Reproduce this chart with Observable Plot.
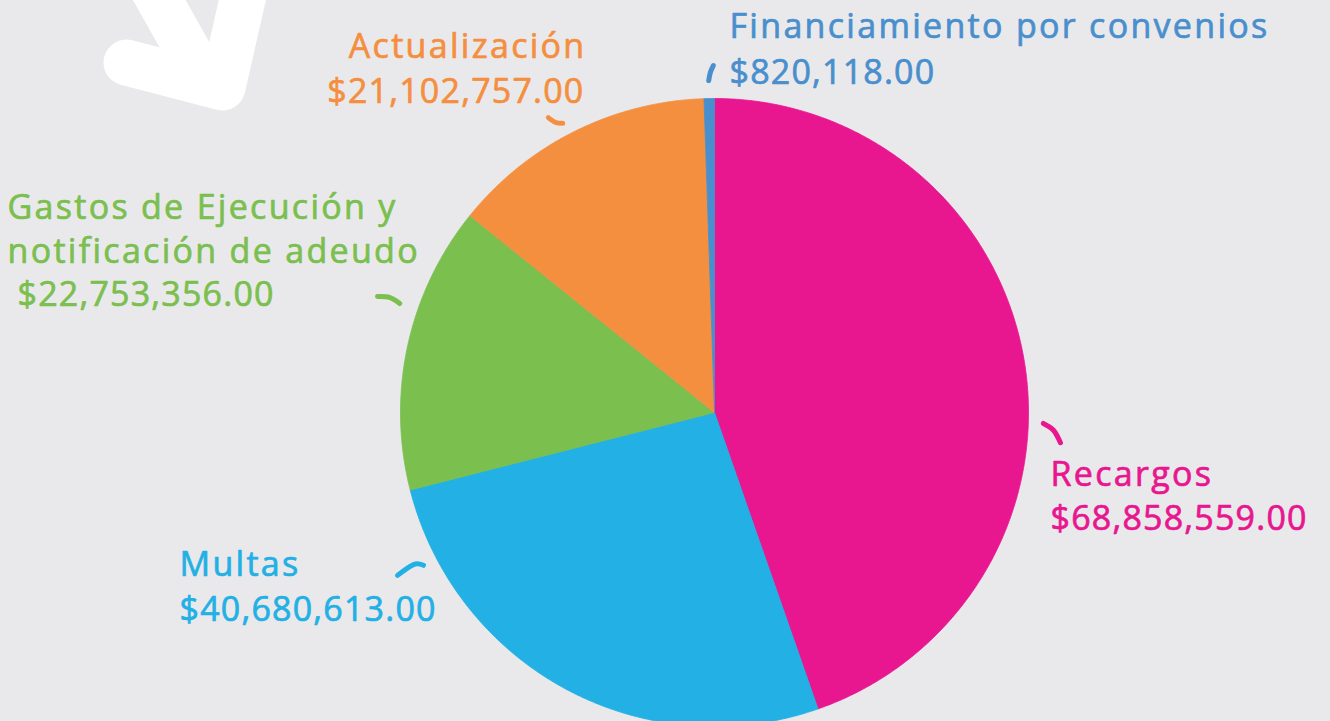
<!DOCTYPE html>
<html><head><meta charset="utf-8">
<script src="https://cdn.jsdelivr.net/npm/d3@7"></script>
<script src="https://cdn.jsdelivr.net/npm/@observablehq/plot@0.6"></script>
<style>
html,body{margin:0;padding:0;background:#E9E9EC;overflow:hidden;}
#chart svg{display:block;}
</style></head><body><div id="chart"></div>
<script>
// ---- data ----
const categories = ["Recargos", "Multas", "Gastos de Ejecución y\nnotificación de adeudo", "Actualización", "Financiamiento por convenios"];
const amounts = [68858559, 40680613, 22753356, 21102757, 820118];
const colors = ["#E8168F", "#22B0E5", "#7BBF4F", "#F58F40", "#4A8FCD"];

// ---- layout (pixels) ----
const W = 1330, H = 721, CX = 714, CY = 412, R = 314;
const labelLayout = [
  {anchor: "start", x: 1050, nameY: 485, amountY: 529, amountX: 1050},
  {anchor: "start", x: 179, nameY: 575, amountY: 620, amountX: 179},
  {anchor: "start", x: 7, nameY: 262, amountY: 305, amountX: 17},
  {anchor: "end", x: 586, nameY: 57, amountY: 102, amountX: 584},
  {anchor: "start", x: 729, nameY: 37, amountY: 83, amountX: 729}
];
// leader ticks, polar (degrees clockwise from top, radius in pie radii)
const tickLayout = [
  [[91.9, 1.048], [93.0, 1.081], [95.0, 1.106]],
  [[242.8, 1.135], [243.2, 1.074], [242.3, 1.047]],
  [[289.0, 1.135], [289.5, 1.098], [289.1, 1.061]],
  [[330.6, 1.078], [331.3, 1.053], [332.3, 1.040]],
  [[359.0, 1.057], [359.3, 1.083], [359.8, 1.105]]
];
// decorative arrow (pixels)
const arrowParts = [
  {part: "head", pts: [[126, 62], [222, 87], [244, -10]]},
  {part: "shaft", pts: [[145, -25], [204, 80]]}
];

const px = (x) => (x - CX) / R;
const py = (y) => (CY - y) / R;
const fmt = d3.format("$,.2f");

const data = categories.map((c, i) => ({name: c, value: amounts[i], color: colors[i]}));
const arcs = d3.pie().sort(null).value(d => d.value)(data);

const slicePts = arcs.flatMap(a => {
  const n = Math.max(4, Math.ceil((a.endAngle - a.startAngle) / (Math.PI / 360)));
  const pts = [{name: a.data.name, x: 0, y: 0}];
  for (let i = 0; i <= n; i++) {
    const t = a.startAngle + (a.endAngle - a.startAngle) * i / n;
    pts.push({name: a.data.name, x: Math.sin(t), y: Math.cos(t)});
  }
  pts.push({name: a.data.name, x: 0, y: 0});
  return pts;
});

const tickPts = tickLayout.flatMap((t, i) => t.map(([deg, r]) => {
  const a = deg * Math.PI / 180;
  return {name: categories[i], x: r * Math.sin(a), y: r * Math.cos(a)};
}));

const arrowPts = arrowParts.flatMap(p => p.pts.map(([x, y]) => ({part: p.part, x: px(x), y: py(y)})));

const marks = [
  Plot.line(arrowPts, {x: "x", y: "y", z: "part", stroke: "white", strokeWidth: 46,
    strokeLinecap: "round", strokeLinejoin: "round"}),
  Plot.line(slicePts, {x: "x", y: "y", z: "name", fill: "name", stroke: "name", strokeWidth: 0.8, strokeLinejoin: "round"}),
  Plot.line(tickPts, {x: "x", y: "y", z: "name", stroke: "name", strokeWidth: 5,
    strokeLinecap: "round", curve: "natural"})
];

data.forEach((d, i) => {
  const L = labelLayout[i];
  const common = {fill: d.color, stroke: d.color, strokeWidth: 0.7,
    textAnchor: L.anchor, lineAnchor: "bottom", fontSize: 34, fontFamily: "Open Sans"};
  marks.push(Plot.text([d], {
    ...common, x: () => px(L.x), y: () => py(L.nameY), text: "name", lineHeight: 44 / 34
  }));
  marks.push(Plot.text([d], {
    ...common, x: () => px(L.amountX), y: () => py(L.amountY), text: dd => fmt(dd.value)
  }));
});

const svg = Plot.plot({
  width: W, height: H,
  margin: 0,
  style: {background: "#E9E9EC", overflow: "hidden"},
  x: {type: "linear", domain: [px(0), px(W)], range: [0, W], axis: null},
  y: {type: "linear", domain: [py(H), py(0)], range: [H, 0], axis: null},
  color: {domain: categories, range: colors},
  marks
});
d3.select(svg).selectAll("text").each(function () {
  const isAmount = this.textContent.trim().startsWith("$");
  this.setAttribute("letter-spacing", isAmount ? 1.2 : 2.3);
});
document.getElementById("chart").appendChild(svg);
</script></body></html>
